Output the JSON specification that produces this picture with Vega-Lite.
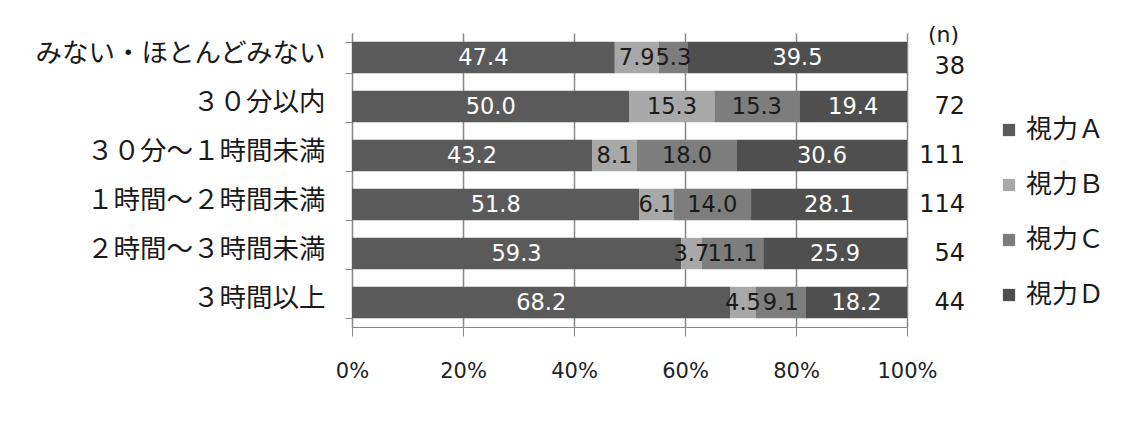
{
  "$schema": "https://vega.github.io/schema/vega-lite/v6.json",
  "width": 555,
  "height": 294,
  "autosize": {"type": "none"},
  "padding": {"left": 352, "top": 33, "right": 238, "bottom": 108},
  "background": "white",
  "config": {
    "view": {"stroke": null},
    "font": "DejaVu Sans"
  },
  "datasets": {
    "main": [
      {"cat": "みない・ほとんどみない", "s": "視力Ａ", "o": 1, "v": 47.4},
      {"cat": "みない・ほとんどみない", "s": "視力Ｂ", "o": 2, "v": 7.9},
      {"cat": "みない・ほとんどみない", "s": "視力Ｃ", "o": 3, "v": 5.3},
      {"cat": "みない・ほとんどみない", "s": "視力Ｄ", "o": 4, "v": 39.5},
      {"cat": "３０分以内", "s": "視力Ａ", "o": 1, "v": 50.0},
      {"cat": "３０分以内", "s": "視力Ｂ", "o": 2, "v": 15.3},
      {"cat": "３０分以内", "s": "視力Ｃ", "o": 3, "v": 15.3},
      {"cat": "３０分以内", "s": "視力Ｄ", "o": 4, "v": 19.4},
      {"cat": "３０分～１時間未満", "s": "視力Ａ", "o": 1, "v": 43.2},
      {"cat": "３０分～１時間未満", "s": "視力Ｂ", "o": 2, "v": 8.1},
      {"cat": "３０分～１時間未満", "s": "視力Ｃ", "o": 3, "v": 18.0},
      {"cat": "３０分～１時間未満", "s": "視力Ｄ", "o": 4, "v": 30.6},
      {"cat": "１時間～２時間未満", "s": "視力Ａ", "o": 1, "v": 51.8},
      {"cat": "１時間～２時間未満", "s": "視力Ｂ", "o": 2, "v": 6.1},
      {"cat": "１時間～２時間未満", "s": "視力Ｃ", "o": 3, "v": 14.0},
      {"cat": "１時間～２時間未満", "s": "視力Ｄ", "o": 4, "v": 28.1},
      {"cat": "２時間～３時間未満", "s": "視力Ａ", "o": 1, "v": 59.3},
      {"cat": "２時間～３時間未満", "s": "視力Ｂ", "o": 2, "v": 3.7},
      {"cat": "２時間～３時間未満", "s": "視力Ｃ", "o": 3, "v": 11.1},
      {"cat": "２時間～３時間未満", "s": "視力Ｄ", "o": 4, "v": 25.9},
      {"cat": "３時間以上", "s": "視力Ａ", "o": 1, "v": 68.2},
      {"cat": "３時間以上", "s": "視力Ｂ", "o": 2, "v": 4.5},
      {"cat": "３時間以上", "s": "視力Ｃ", "o": 3, "v": 9.1},
      {"cat": "３時間以上", "s": "視力Ｄ", "o": 4, "v": 18.2}
    ],
    "ncount": [
      {"cat": "みない・ほとんどみない", "n": "38", "first": true},
      {"cat": "３０分以内", "n": "72", "first": false},
      {"cat": "３０分～１時間未満", "n": "111", "first": false},
      {"cat": "１時間～２時間未満", "n": "114", "first": false},
      {"cat": "２時間～３時間未満", "n": "54", "first": false},
      {"cat": "３時間以上", "n": "44", "first": false}
    ],
    "nhead": [
      {"cat": "みない・ほとんどみない", "label": "(n)"}
    ]
  },
  "layer": [
    {
      "data": {"name": "main"},
      "transform": [
        {"stack": "v", "groupby": ["cat"], "sort": [{"field": "o", "order": "ascending"}], "as": ["x0", "x1"], "offset": "normalize"}
      ],
      "layer": [
        {
          "mark": {"type": "bar"},
          "encoding": {
            "y": {
              "field": "cat", "type": "nominal", "sort": null,
              "scale": {"paddingInner": 0.36, "paddingOuter": 0.18},
              "axis": {
                "title": null,
                "labelFont": "Noto Sans CJK JP",
                "labelFontSize": 26.5,
                "labelLimit": 0,
                "labelColor": "#1a1a1a",
                "labelPadding": 20,
                "labelOffset": -4,
                "tickBand": "extent",
                "tickSize": 7,
                "tickColor": "#888888",
                "domainColor": "#888888"
              }
            },
            "x": {
              "field": "x0", "type": "quantitative",
              "scale": {"domain": [0, 1]},
              "axis": {
                "title": null,
                "format": ".0%",
                "values": [0, 0.2, 0.4, 0.6, 0.8, 1],
                "labelFont": "DejaVu Sans",
                "labelFontSize": 21,
                "labelFlush": false,
                "labelColor": "#222222",
                "labelPadding": 24,
                "tickSize": 9,
                "tickColor": "#888888",
                "domainColor": "#888888",
                "grid": true,
                "gridColor": "#888888",
                "gridWidth": 1.5
              }
            },
            "x2": {"field": "x1"},
            "color": {
              "field": "s", "type": "nominal",
              "scale": {"domain": ["視力Ａ", "視力Ｂ", "視力Ｃ", "視力Ｄ"], "range": ["#5a5a5a", "#a8a8a8", "#7d7d7d", "#4f4f4f"]},
              "legend": {
                "title": null,
                "orient": "none",
                "legendX": 644,
                "legendY": 84,
                "symbolType": "square",
                "symbolSize": 150,
                "symbolStrokeWidth": 0,
                "labelFont": "Noto Sans CJK JP",
                "labelFontSize": 26,
                "labelColor": "#1a1a1a",
                "rowPadding": 29,
                "labelOffset": 4
              }
            }
          }
        },
        {
          "transform": [{"calculate": "(datum.x0 + datum.x1) / 2", "as": "xm"}],
          "mark": {"type": "text", "font": "DejaVu Sans", "fontSize": 22.5, "align": "center", "baseline": "middle"},
          "encoding": {
            "y": {"field": "cat", "type": "nominal", "sort": null},
            "x": {"field": "xm", "type": "quantitative"},
            "text": {"field": "v", "type": "quantitative", "format": ".1f"},
            "color": {
              "field": "s", "type": "nominal",
              "scale": {"domain": ["視力Ａ", "視力Ｂ", "視力Ｃ", "視力Ｄ"], "range": ["#ffffff", "#1a1a1a", "#1a1a1a", "#ffffff"]},
              "legend": null
            }
          }
        }
      ],
      "resolve": {"scale": {"color": "independent"}}
    },
    {
      "data": {"name": "ncount"},
      "transform": [{"filter": "!datum.first"}],
      "mark": {"type": "text", "font": "DejaVu Sans", "fontSize": 24, "align": "right", "baseline": "middle", "dx": 58, "color": "#1a1a1a"},
      "encoding": {
        "y": {"field": "cat", "type": "nominal", "sort": null},
        "x": {"datum": 1, "type": "quantitative"},
        "text": {"field": "n", "type": "nominal"}
      }
    },
    {
      "data": {"name": "ncount"},
      "transform": [{"filter": "datum.first"}],
      "mark": {"type": "text", "font": "DejaVu Sans", "fontSize": 24, "align": "right", "baseline": "middle", "dx": 58, "dy": 9, "color": "#1a1a1a"},
      "encoding": {
        "y": {"field": "cat", "type": "nominal", "sort": null},
        "x": {"datum": 1, "type": "quantitative"},
        "text": {"field": "n", "type": "nominal"}
      }
    },
    {
      "data": {"name": "nhead"},
      "mark": {"type": "text", "font": "DejaVu Sans", "fontSize": 22, "align": "right", "baseline": "middle", "dx": 52, "dy": -23, "color": "#1a1a1a"},
      "encoding": {
        "y": {"field": "cat", "type": "nominal", "sort": null},
        "x": {"datum": 1, "type": "quantitative"},
        "text": {"field": "label", "type": "nominal"}
      }
    }
  ],
  "resolve": {"scale": {"color": "independent"}}
}
